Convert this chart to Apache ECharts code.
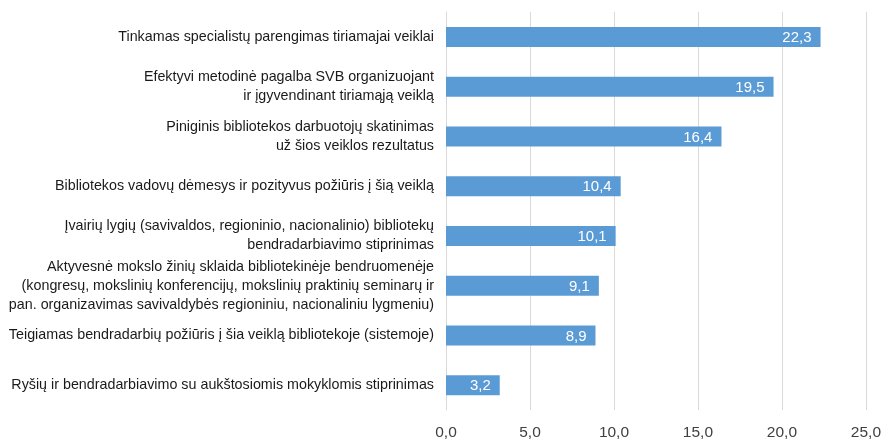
<!DOCTYPE html>
<html><head><meta charset="utf-8">
<script src="https://cdn.jsdelivr.net/npm/echarts@6/dist/echarts.min.js"></script>
<style>html,body{margin:0;padding:0;background:#fff}#c{width:884px;height:442px}</style>
</head><body><div id="c"></div>
<script>
const categories = [
  "Tinkamas specialistų parengimas tiriamajai veiklai",
  "Efektyvi metodinė pagalba SVB organizuojant\nir įgyvendinant tiriamąją veiklą",
  "Piniginis bibliotekos darbuotojų skatinimas\nuž šios veiklos rezultatus",
  "Bibliotekos vadovų dėmesys ir pozityvus požiūris į šią veiklą",
  "Įvairių lygių (savivaldos, regioninio, nacionalinio) bibliotekų\nbendradarbiavimo stiprinimas",
  "Aktyvesnė mokslo žinių sklaida bibliotekinėje bendruomenėje\n(kongresų, mokslinių konferencijų, mokslinių praktinių seminarų ir\npan. organizavimas savivaldybės regioniniu, nacionaliniu lygmeniu)",
  "Teigiamas bendradarbių požiūris į šia veiklą bibliotekoje (sistemoje)",
  "Ryšių ir bendradarbiavimo su aukštosiomis mokyklomis stiprinimas"
];
const values = [22.3, 19.5, 16.4, 10.4, 10.1, 9.1, 8.9, 3.2];
const xTicks = [0, 5, 10, 15, 20, 25];

const fmt = v => v.toFixed(1).replace('.', ',');
const chart = echarts.init(document.getElementById('c'), null, {renderer: 'canvas'});
chart.setOption({
  animation: false,
  textStyle: {fontFamily: 'Liberation Sans'},
  grid: {left: 446, right: 18, top: 12, bottom: 32, containLabel: false},
  xAxis: {
    type: 'value', min: xTicks[0], max: xTicks[xTicks.length - 1], interval: 5,
    axisLine: {show: false}, axisTick: {show: false},
    splitLine: {lineStyle: {color: '#d9d9d9', width: 1}},
    axisLabel: {formatter: v => fmt(v), color: '#404040', fontSize: 15.5, margin: 15}
  },
  yAxis: {
    type: 'category', data: categories, inverse: true,
    axisLine: {show: true, lineStyle: {color: '#d9d9d9'}}, axisTick: {show: false},
    axisLabel: {color: '#1a1a1a', fontSize: 14.3, lineHeight: 19, margin: 12, align: 'right'}
  },
  series: [{
    type: 'bar', data: values, barWidth: 20,
    itemStyle: {color: '#5b9bd5'},
    label: {show: true, position: 'insideRight', color: '#fff', fontSize: 15, offset: [-4, 1], formatter: p => fmt(p.value)}
  }]
});
</script></body></html>
